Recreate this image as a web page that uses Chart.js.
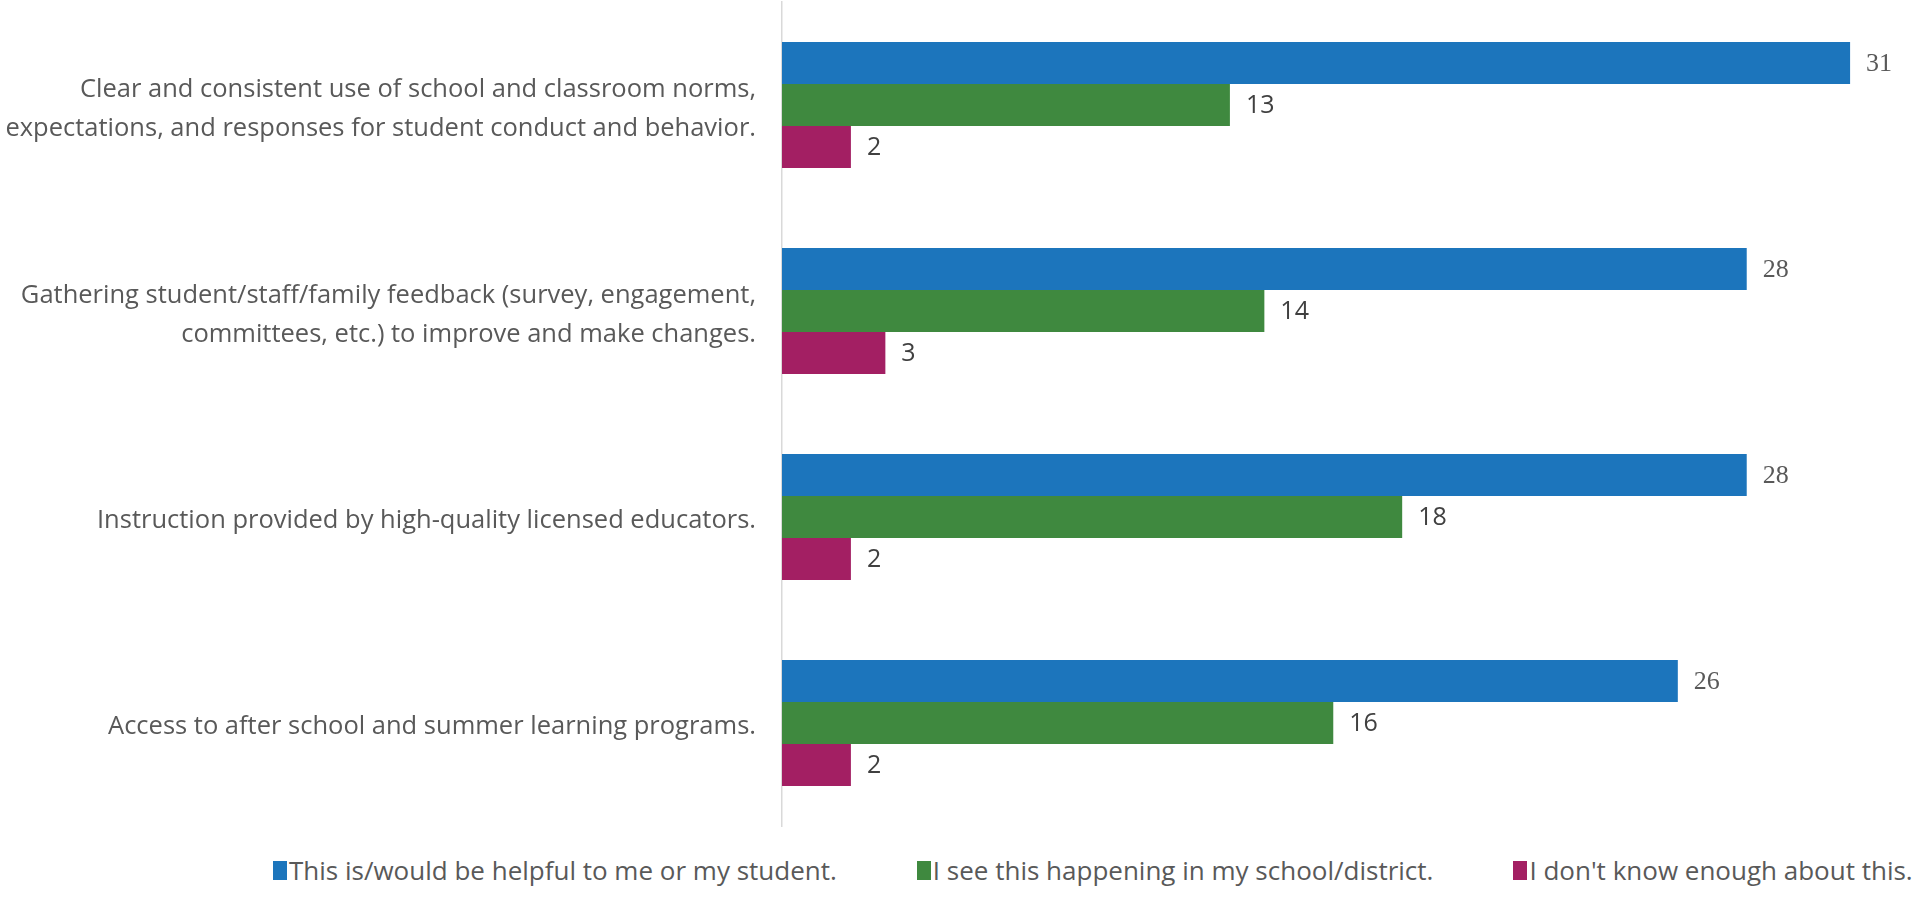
<!DOCTYPE html>
<html>
<head>
<meta charset="utf-8">
<script src="https://cdn.jsdelivr.net/npm/chart.js@4"></script>
<style>
  html, body { margin: 0; padding: 0; background: #fff; }
  .wrap { position: relative; width: 1926px; height: 919px; }
  .chart-box { position: absolute; left: 0; top: 0; width: 1926px; height: 846px; }
  .legend { position: absolute; left: 273px; top: 852px; display: flex; align-items: center; gap: 80px;
            font-family: 'Open Sans', sans-serif; font-size: 26px; color: #595959; white-space: nowrap; }
  .legend-item { display: flex; align-items: center; }
  .legend-dot { display: inline-block; width: 14px; height: 19px; margin-right: 2px; }
</style>
</head>
<body>
<div class="wrap">
  <div class="chart-box"><canvas id="barChart"></canvas></div>
  <div class="legend" id="legend"></div>
</div>
<script>
// ---------- data ----------
const categories = [
  ['Clear and consistent use of school and classroom norms,', 'expectations, and responses for student conduct and behavior.'],
  ['Gathering student/staff/family feedback (survey, engagement,', 'committees, etc.) to improve and make changes.'],
  'Instruction provided by high-quality licensed educators.',
  'Access to after school and summer learning programs.'
];
const seriesNames = [
  'This is/would be helpful to me or my student.',
  'I see this happening in my school/district.',
  "I don't know enough about this."
];
const helpful = [31, 28, 28, 26];
const seeHappening = [13, 14, 18, 16];
const dontKnow = [2, 3, 2, 2];

const COLORS = ['#1C75BC', '#3F893F', '#A31F63'];

// ---------- value labels ----------
const valueLabels = {
  id: 'valueLabels',
  afterDatasetsDraw(chart) {
    const ctx = chart.ctx;
    chart.data.datasets.forEach((ds, i) => {
      const meta = chart.getDatasetMeta(i);
      meta.data.forEach((bar, j) => {
        ctx.save();
        if (i === 0) {
          ctx.font = '26px "Liberation Serif", serif';
          ctx.fillStyle = '#595959';
        } else {
          ctx.font = '25px "Open Sans", sans-serif';
          ctx.fillStyle = '#404040';
        }
        ctx.textAlign = 'left';
        ctx.textBaseline = 'middle';
        ctx.fillText(ds.data[j], bar.x + 16, bar.y + 1);
        ctx.restore();
      });
    });
  }
};

new Chart(document.getElementById('barChart'), {
  type: 'bar',
  data: {
    labels: categories,
    datasets: [helpful, seeHappening, dontKnow].map((d, i) => ({
      label: seriesNames[i],
      data: d,
      backgroundColor: COLORS[i],
      borderWidth: 0,
      barPercentage: 1,
      categoryPercentage: 0.612
    }))
  },
  options: {
    indexAxis: 'y',
    responsive: true,
    maintainAspectRatio: false,
    animation: false,
    layout: { padding: { top: 2, right: 7, bottom: 20, left: 0 } },
    plugins: {
      legend: { display: false },
      tooltip: { enabled: false }
    },
    scales: {
      x: { display: false, min: 0, max: 33 },
      y: {
        grid: { display: false },
        border: { display: true, color: '#d9d9d9', width: 1.5 },
        ticks: {
          color: '#595959',
          padding: 18,
          labelOffset: 4,
          font: { family: "'Open Sans', sans-serif", size: 25.5, lineHeight: 1.53 }
        },
        afterFit: scale => {
          scale.width = 782;
          // no extra room for the two-line labels above/below the plot
          scale.paddingTop = 0;
          scale.paddingBottom = 0;
        }
      }
    }
  },
  plugins: [valueLabels]
});

// custom legend
document.getElementById('legend').innerHTML = seriesNames.map((n, i) =>
  `<span class="legend-item"><span class="legend-dot" style="background:${COLORS[i]};"></span>${n}</span>`
).join('');
</script>
</body>
</html>
